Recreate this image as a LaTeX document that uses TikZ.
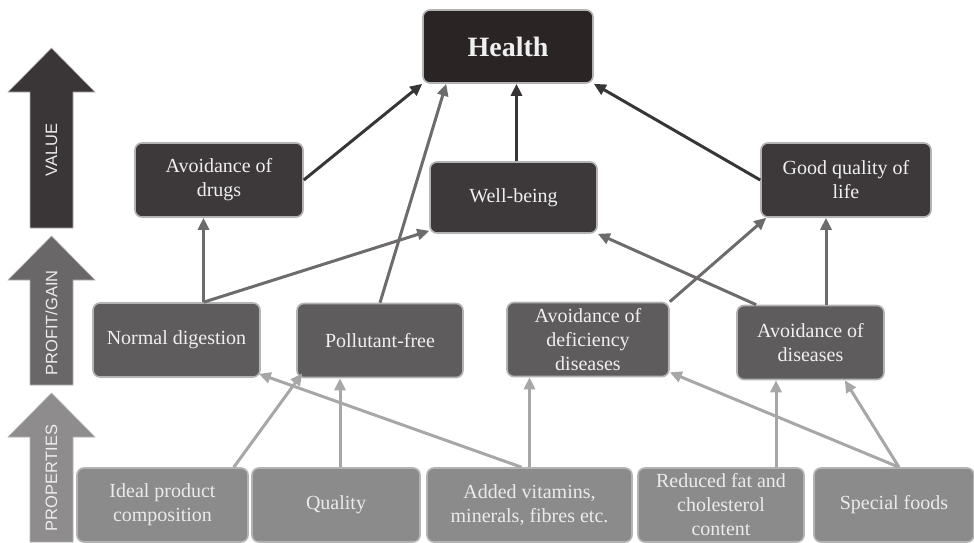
\documentclass[tikz,border=0pt]{standalone}
\usepackage{fontspec}
\setmainfont{Liberation Serif}
\newfontfamily\lblfont{Liberation Sans}
\usepackage{tikz}
\usetikzlibrary{arrows.meta}
\definecolor{topfill}{HTML}{2A2425}
\definecolor{valfill}{HTML}{3D393A}
\definecolor{gainfill}{HTML}{5F5C5D}
\definecolor{propfill}{HTML}{8C8B8C}
\definecolor{rimgray}{HTML}{B4B3B4}
\definecolor{darkline}{HTML}{383536}
\definecolor{midline}{HTML}{6E6B6C}
\definecolor{lightline}{HTML}{A8A7A8}
\definecolor{valarrow}{HTML}{3A3536}
\definecolor{gainarrow}{HTML}{6A6768}
\definecolor{proparrow}{HTML}{8E8C8D}

\begin{document}
\begin{tikzpicture}[x=1pt, y=-1pt,
  box/.style={draw=rimgray, line width=1.6pt, rounded corners=7pt, align=center, inner sep=0pt,
    font=\rmfamily\fontsize{20}{24}\selectfont, text=white!94!black, minimum height=74pt},
  topbox/.style={box, fill=topfill, font=\rmfamily\fontsize{28}{32}\selectfont\bfseries},
  valbox/.style={box, fill=valfill},
  gainbox/.style={box, fill=gainfill},
  propbox/.style={box, fill=propfill, text=white!92!black},
  lvl/.style={rotate=90, font=\lblfont\fontsize{16.5}{18}\selectfont, text=white!93!black},
  arr/.style={-{Triangle[length=12pt, width=11pt]}, line width=3pt},
  darkarr/.style={arr, draw=darkline},
  midarr/.style={arr, draw=midline},
  lightarr/.style={arr, draw=lightline}]
  \useasboundingbox (0,0) rectangle (974,543);

  \fill[valarrow, draw=rimgray, line width=0.6pt] (30,228) -- (30,92) -- (8,92) -- (51.5,48) -- (95,92) -- (73,92) -- (73,228) -- cycle;
  \fill[gainarrow, draw=rimgray, line width=0.6pt] (30,385) -- (30,280) -- (8,280) -- (51.5,236) -- (95,280) -- (73,280) -- (73,385) -- cycle;
  \fill[proparrow, draw=rimgray, line width=0.6pt] (30,542) -- (30,437) -- (8,437) -- (51.5,393) -- (95,437) -- (73,437) -- (73,542) -- cycle;
  \node[lvl] (valuelbl) at (51.5,150) {VALUE};
  \node[lvl] (gainlbl) at (51.5,323) {PROFIT/GAIN};
  \node[lvl] (proplbl) at (51.5,478) {PROPERTIES};

  \node[topbox, minimum width=170pt, minimum height=73pt] (health) at (508,46.5) {Health};

  \node[valbox, minimum width=168pt] (drugs) at (219,180) {Avoidance of\\drugs};
  \node[valbox, minimum width=167pt, minimum height=71pt] (wellb) at (513.5,197.5) {Well-being};
  \node[valbox, minimum width=170pt] (goodql) at (846,180) {Good quality of\\life};

  \node[gainbox, minimum width=167pt] (normdig) at (176.5,340) {Normal digestion};
  \node[gainbox, minimum width=166pt] (pollut) at (380,340.5) {Pollutant-free};
  \node[gainbox, minimum width=162pt] (defdis) at (588,339.5) {Avoidance of\\deficiency\\diseases};
  \node[gainbox, minimum width=147pt] (avdis) at (810.5,342.5) {Avoidance of\\diseases};

  \node[propbox, minimum width=171pt] (ideal) at (162.5,505) {Ideal product\\composition};
  \node[propbox, minimum width=168pt] (quality) at (336,505) {Quality};
  \node[propbox, minimum width=205pt] (vitamins) at (529.5,505) {Added vitamins,\\minerals, fibres etc.};
  \node[propbox, minimum width=166pt] (redfat) at (721,505) {Reduced fat and\\cholesterol\\content};
  \node[propbox, minimum width=160pt] (special) at (894,505) {Special foods};

  \coordinate (ndtop) at ([xshift=27pt]normdig.north);
  \coordinate (adtop) at ([xshift=15.5pt]avdis.north);
  \coordinate (rftop) at ([xshift=55pt]redfat.north);
  \coordinate (sftop) at ([xshift=5pt]special.north);

  \draw[darkarr] (drugs.east) -- (health.south west);
  \draw[darkarr] ([xshift=3pt]wellb.north) -- ([xshift=3pt]wellb.north |- health.south);
  \draw[darkarr] (goodql.west) -- (health.south east);

  \draw[midarr] (ndtop) -- (ndtop |- drugs.south);
  \draw[midarr] (ndtop) -- ([yshift=3pt]wellb.south west);
  \draw[midarr] (pollut.north) -- ([xshift=24pt]health.south west);
  \draw[midarr] (defdis.north east) -- ([xshift=6pt]goodql.south west);
  \draw[midarr] ([xshift=20pt]avdis.north west) -- (wellb.south east);
  \draw[midarr] (adtop) -- (adtop |- goodql.south);

  \draw[lightarr] ([xshift=-15pt]ideal.north east) -- ([xshift=6pt,yshift=5pt]pollut.south west);
  \draw[lightarr] ([xshift=4pt]quality.north) -- ([xshift=4pt]quality.north |- pollut.south);
  \draw[lightarr] (vitamins.north) -- (vitamins.north |- defdis.south);
  \draw[lightarr] ([xshift=-8pt]vitamins.north) -- ([xshift=-2pt,yshift=4pt]normdig.south east);
  \draw[lightarr] (rftop) -- (rftop |- avdis.south);
  \draw[lightarr] (sftop) -- ([xshift=-40pt]avdis.south east);
  \draw[lightarr] (sftop) -- ([yshift=5pt]defdis.south east);
\end{tikzpicture}
\end{document}
